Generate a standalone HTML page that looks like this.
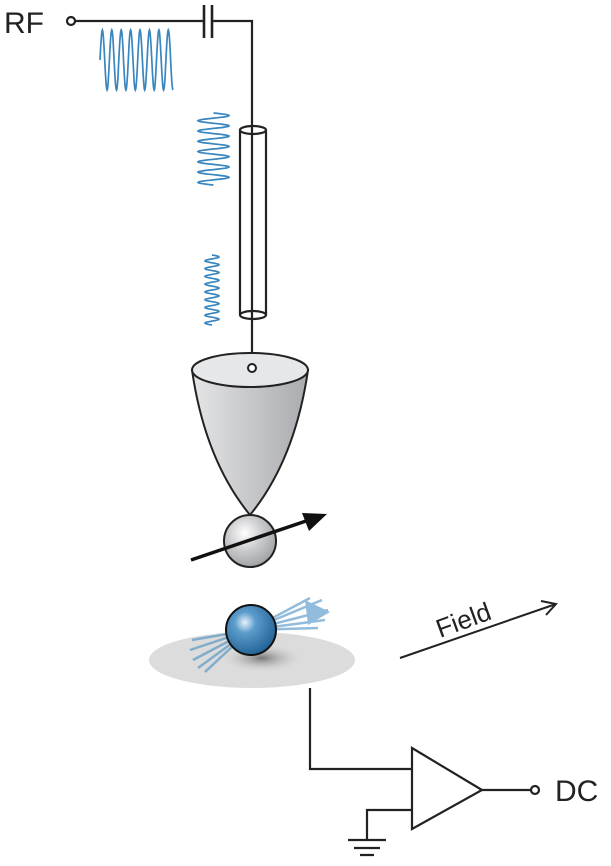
<!DOCTYPE html>
<html><head><meta charset="utf-8"><style>
html,body{margin:0;padding:0;background:#fff;}
svg{display:block;font-family:"Liberation Sans",sans-serif;}
</style></head><body>
<svg width="611" height="866" viewBox="0 0 611 866">
<defs>
<linearGradient id="cone" x1="0" x2="1"><stop offset="0" stop-color="#e4e5e7"/><stop offset="1" stop-color="#a9abae"/></linearGradient>
<radialGradient id="gs" cx="0.4" cy="0.35" r="0.7"><stop offset="0" stop-color="#fff"/><stop offset="0.5" stop-color="#c8c9cb"/><stop offset="1" stop-color="#9c9ea1"/></radialGradient>
<radialGradient id="bs" cx="0.38" cy="0.35" r="0.7"><stop offset="0" stop-color="#e8f2fa"/><stop offset="0.3" stop-color="#5b9ccc"/><stop offset="1" stop-color="#1f5f92"/></radialGradient>
<radialGradient id="sh" cx="0.5" cy="0.5" r="0.5"><stop offset="0" stop-color="#555" stop-opacity="0.75"/><stop offset="1" stop-color="#ccc" stop-opacity="0"/></radialGradient>
</defs>
<g stroke="#222" stroke-width="2.2" fill="none">
<text x="4" y="33" font-size="30" fill="#222" stroke="none">RF</text>
<circle cx="71" cy="21" r="4"/>
<path d="M75 21H204M212 21H252V364"/>
<path d="M204 5V38M212 5V38" stroke-width="2.6"/>
<g>
<path d="M240 130V315M266 130V315"/>
<ellipse cx="253" cy="130" rx="13" ry="4"/>
<ellipse cx="253" cy="315" rx="13" ry="4"/>
</g>
</g>
<g stroke="#3a86be" stroke-width="1.7" fill="none">
<path id="w1" d=""/>
<path id="w2" d=""/>
<path id="w3" d=""/>
</g>
<g stroke="#222" stroke-width="2">
<path d="M192 370 Q205 460 250 515 Q295 460 308 370 Z" fill="url(#cone)"/>
<ellipse cx="250" cy="370" rx="58" ry="17" fill="#e6e7e9"/>
<circle cx="252" cy="368" r="4" fill="#fff"/>
<circle cx="250" cy="541" r="26" fill="url(#gs)"/>
</g>
<g>
<line x1="191" y1="560" x2="312" y2="519" stroke="#111" stroke-width="3.5"/>
<polygon points="327,514 302,513 309,531" fill="#111"/>
</g>
<ellipse cx="252" cy="660" rx="103" ry="28" fill="#dcdcdc"/>
<ellipse cx="262" cy="658" rx="40" ry="14" fill="url(#sh)"/>
<g stroke="#3a86be" stroke-width="2.5" opacity="0.55">
<path d="M250 630L192 640M250 630L190 650M250 630L193 660M250 630L198 668M250 630L205 672"/>
<path d="M250 630L322 600M250 630L328 610M250 630L325 620M250 630L318 628M250 630L310 598"/>
<polygon points="330,612 305,600 308,625" fill="#3a86be" stroke="none"/>
</g>
<circle cx="251" cy="630" r="25" fill="url(#bs)" stroke="#111" stroke-width="2"/>
<g>
<text x="0" y="0" font-size="26" fill="#222" transform="translate(440,638) rotate(-20)">Field</text>
<path d="M400 658L556 604M541 601L556 604L546 615" stroke="#222" stroke-width="2" fill="none"/>
</g>
<g stroke="#222" stroke-width="2.2" fill="none">
<path d="M310 688V769H412"/>
<polygon points="412,748 412,829 482,790" fill="#fff"/>
<path d="M482 790H531"/>
<circle cx="535" cy="790" r="4"/>
<path d="M412 810H367V840M348 840H386M354 848H380M360 855H374"/>
</g>
<text x="555" y="801" font-size="30" fill="#222">DC</text>
<script>
const w1Cycles=[8], w2Cycles=[7], w3Cycles=[9];
function wave(x0,y0,w,h,n,vertical){let d='';const N=n*24;for(let i=0;i<=N;i++){const t=i/N;const s=Math.sin(t*n*2*Math.PI);let x,y;if(vertical){x=x0+t*w;y=y0+h/2-s*h/2;}else{y=y0+t*h;x=x0+w/2+s*w/2;}d+=(i?'L':'M')+x.toFixed(1)+' '+y.toFixed(1);}return d;}
document.getElementById('w1').setAttribute('d',wave(100,30,73,60,w1Cycles[0]-0.25,true));
document.getElementById('w2').setAttribute('d',wave(198,113,31,72,w2Cycles[0],false));
document.getElementById('w3').setAttribute('d',wave(205,255,14,70,w3Cycles[0],false));
</script>
</svg>
</body></html>
